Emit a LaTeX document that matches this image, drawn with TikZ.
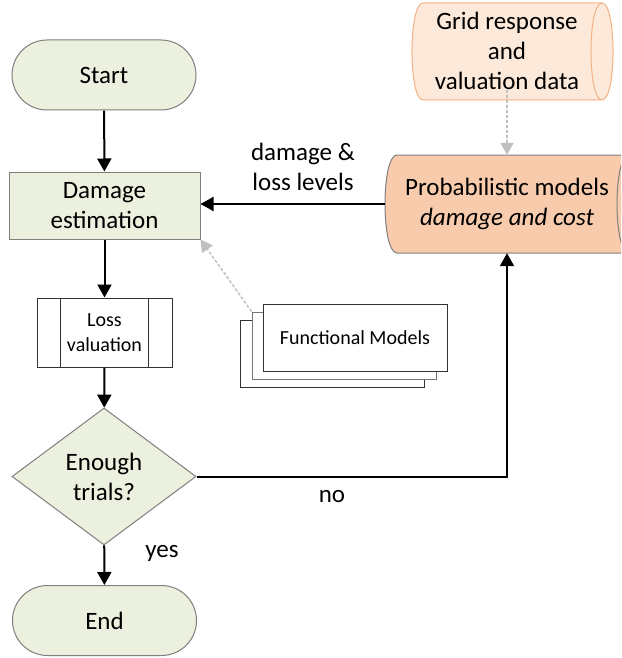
\documentclass[tikz,border=0pt]{standalone}
\usepackage{fontspec}
\setmainfont{Carlito}
\usetikzlibrary{shapes.geometric,shapes.misc,arrows.meta,calc}
\definecolor{grfill}{HTML}{EBF1DE}
\definecolor{grdraw}{HTML}{7F7F7F}
\definecolor{pkfill}{HTML}{FDE9D9}
\definecolor{pkdraw}{HTML}{F4B183}
\definecolor{prfill}{HTML}{F8CBAD}
\definecolor{dashgray}{HTML}{BFBFBF}
\tikzset{
  txt/.style={font=\fontsize{25}{30}\selectfont, align=center, inner sep=0pt},
  smalltxt/.style={font=\fontsize{20}{25}\selectfont, align=center, inner sep=0pt},
  terminal/.style={txt, rounded rectangle, draw=grdraw, fill=grfill, line width=1pt, minimum width=184pt, minimum height=70pt},
  process/.style={txt, rectangle, draw=grdraw, fill=grfill, line width=1pt, minimum width=191pt, minimum height=67pt},
  decision/.style={txt, diamond, draw=grdraw, fill=grfill, line width=1pt, aspect=1.343, minimum width=184pt, minimum height=137pt},
  subproc/.style={smalltxt, rectangle, draw=black!80, fill=white, line width=1pt, minimum width=135pt, minimum height=69pt},
  docbox/.style={rectangle, draw=black!80, fill=white, line width=1pt, minimum width=184pt, minimum height=67pt},
  flow/.style={line width=2pt, -{Triangle[length=13pt,width=14pt]}},
  feed/.style={line width=1.5pt, dashgray, dash pattern=on 3pt off 2pt, -{Triangle[length=12pt,width=13pt,fill=dashgray]}}
}
\begin{document}
\begin{tikzpicture}[x=1pt,y=-1pt]
\useasboundingbox (0,0) rectangle (621,658);
\fill[white] (0,0) rectangle (621,658);
\begin{scope}
\clip (0,0) rectangle (621,658);
% Grid response cylinder
\draw[fill=pkfill, draw=pkdraw, line width=1pt]
  (423,3) -- (602,3) .. controls (616.7,3) and (616.7,100) .. (602,100)
  -- (423,100) .. controls (408.3,100) and (408.3,3) .. (423,3) -- cycle;
\draw[draw=pkdraw, line width=1pt] (602,3) .. controls (587.3,3) and (587.3,100) .. (602,100);
% Probabilistic models cylinder
\draw[fill=prfill, draw=grdraw, line width=1pt]
  (397,155) -- (629,155) .. controls (645,155) and (645,253) .. (629,253)
  -- (397,253) .. controls (381,253) and (381,155) .. (397,155) -- cycle;
\draw[draw=grdraw, line width=1pt] (629,155) .. controls (613,155) and (613,253) .. (629,253);
\end{scope}
\node[txt] (grid) at (507,51) {Grid response\\and\\valuation data};
\node[txt, minimum width=244pt, minimum height=98pt] (prob) at (507,204) {Probabilistic models\\\textit{damage and cost}};

\node[terminal] (start) at (104,75) {Start};
\node[process] (dmg) at (104.5,205.5) {Damage\\estimation};
\node[subproc] (loss) at (104.5,332.5) {Loss\\valuation};
\draw[black!80, line width=1pt] ($(loss.north west)+(24,0)$) -- ($(loss.south west)+(24,0)$);
\draw[black!80, line width=1pt] ($(loss.north east)+(-24,0)$) -- ($(loss.south east)+(-24,0)$);
\node[decision] (dec) at (104,476.5) {Enough\\trials?};
\node[terminal] (end) at (104.5,620.5) {End};

% Functional models stack
\node[docbox] (funcback) at (332,354) {};
\node[docbox, draw=black!55] (funcmid) at (344,345.5) {};
\node[docbox, smalltxt] (func) at (355,337.5) {Functional Models};

% connectors
\draw[flow] (start) -- (dmg);
\draw[flow] (dmg) -- (loss);
\draw[flow] (loss) -- (dec);
\draw[flow] (dec) -- (end);
\draw[flow] (prob.west) -- (prob.west -| dmg.east);
\draw[flow] (dec.east) -| (prob.south);
\draw[feed] (grid.south) -- (prob.north);
\draw[feed] (funcmid.north west) -- (dmg.south east);

% labels
\node[txt] (lbldmg) at (303,167) {damage \&\\loss levels};
\node[txt] (lblno) at (332,497) {no};
\node[txt] (lblyes) at (162,553) {yes};
\end{tikzpicture}
\end{document}
